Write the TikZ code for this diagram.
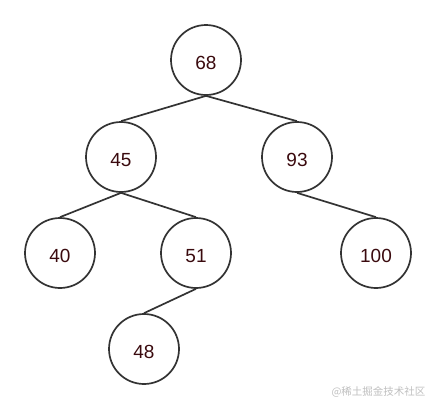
\documentclass[tikz,border=0pt]{standalone}
\usepackage{fontspec}
\setmainfont{Liberation Sans}
\newfontfamily\cjk{Noto Sans CJK SC}
\definecolor{txt}{HTML}{3A0A0E}
\definecolor{edge}{HTML}{333333}
\begin{document}
\begin{tikzpicture}[x=1pt,y=-1pt,
  treenode/.style={circle,draw=edge,line width=1.7pt,minimum size=70pt,inner sep=0pt,text=txt,text height=19pt,text depth=0pt,font=\fontsize{19}{21}\selectfont},
  link/.style={draw=edge,line width=1.7pt}]
\useasboundingbox (0,0) rectangle (436,410);
\node[treenode] (n68) at (206,60) {68};
\node[treenode] (n45) at (121,157) {45};
\node[treenode] (n93) at (297,157) {93};
\node[treenode] (n40) at (60,253) {40};
\node[treenode] (n51) at (196,253) {51};
\node[treenode] (n100) at (376,253) {100};
\node[treenode] (n48) at (144,349) {48};
\draw[link] (n68.south) -- (n45.north);
\draw[link] (n68.south) -- (n93.north);
\draw[link] (n45.south) -- (n40.north);
\draw[link] (n45.south) -- (n51.north);
\draw[link] (n93.south) -- (n100.north);
\draw[link] (n51.south) -- (n48.north);
\node[text=black!25,font=\cjk\fontsize{10.5}{12}\selectfont,anchor=east] (wm) at (429,392) {@稀土掘金技术社区};
\end{tikzpicture}
\end{document}
